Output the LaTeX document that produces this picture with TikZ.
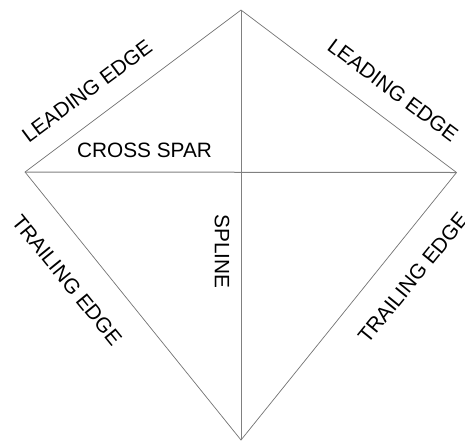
\documentclass[tikz,border=0pt]{standalone}
\usepackage{fontspec}
\setmainfont{Liberation Sans}
\usepackage{tikz}
\usetikzlibrary{positioning}

\begin{document}
\begin{tikzpicture}[
    x=1pt, y=-1pt,
    edge/.style={draw=black!55, line width=0.7pt},
    spar/.style={draw=black!50, line width=1pt},
    lbl/.style={inner sep=0pt, font=\fontsize{20.8}{24}\selectfont}
  ]
  \useasboundingbox (0,0) rectangle (465,440);
  %% Kite corners
  \coordinate (top) at (241, 10);
  \coordinate (lft) at (25, 172);
  \coordinate (rgt) at (456.5, 172.5);
  \coordinate (bot) at (241, 440);
  %% Outline and spars
  \draw[edge] (top) -- (rgt) -- (bot) -- (lft) -- cycle;
  \draw[spar] (lft) -- (rgt);
  \draw[spar] (top) -- (bot);
  %% Labels
  \node[lbl] (cross)  at (144.5, 150) {CROSS SPAR};
  \node[lbl, rotate=-90] (spline) at (222, 251.5) {SPLINE};
  \node[lbl, rotate=36.75]  (leadl)  at (87, 91)  {LEADING EDGE};
  \node[lbl, rotate=-36.8]  (leadr)  at (393, 90) {LEADING EDGE};
  \node[lbl, rotate=-50.9]  (trail)  at (67, 280) {TRAILING EDGE};
  \node[lbl, rotate=50.9]   (trailr) at (413, 278) {TRAILING EDGE};
\end{tikzpicture}
\end{document}
